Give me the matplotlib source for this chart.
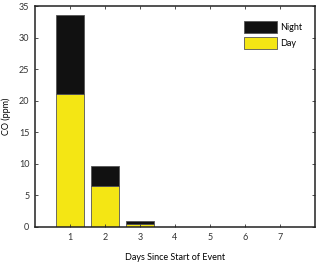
import matplotlib
matplotlib.use("Agg")
import matplotlib.pyplot as plt
from matplotlib.patches import Patch

days = [1, 2, 3, 4, 5, 6, 7]
day_vals = [21.0, 6.5, 0.5, 0, 0, 0, 0]
night_vals = [12.5, 3.2, 0.4, 0, 0, 0, 0]
xtick_labels = ["1", "2", "3", "4", "5", "6", "7"]

plt.rcParams['font.family'] = ['Lato', 'DejaVu Sans']
W, H = 320, 262
fig = plt.figure(figsize=(W/100, H/100), dpi=100)
ax = fig.add_axes([35/W, 1-227/H, (315-35)/W, (227-6)/H])

yellow = '#f4e614'
black = '#111111'
ec = '#555555'
ax.bar(days, day_vals, width=0.78, color=yellow, edgecolor=ec, linewidth=0.6)
ax.bar(days, night_vals, bottom=day_vals, width=0.78, color=black, edgecolor=ec, linewidth=0.6)

ax.set_xlim(0, 8)
ax.set_ylim(0, 35)
ax.set_xticks(days)
ax.set_xticklabels(xtick_labels)
ax.set_yticks([0, 5, 10, 15, 20, 25, 30, 35])
ax.tick_params(direction='in', length=2.5, width=0.6, labelsize=6.5,
               top=True, right=True, colors='#333333', pad=4)
for s in ax.spines.values():
    s.set_linewidth(1.1)
    s.set_color('#222222')

ax.set_xlabel("Days Since Start of Event", fontsize=6.5, labelpad=8)
ax.set_ylabel("CO (ppm)", fontsize=6.5, labelpad=6)

handles = [Patch(facecolor=black, edgecolor=ec, linewidth=0.6, label='Night'),
           Patch(facecolor=yellow, edgecolor=ec, linewidth=0.6, label='Day')]
leg = ax.legend(handles=handles, loc='upper left',
                bbox_to_anchor=(244/W, 1-21/H), bbox_transform=fig.transFigure,
                frameon=False, fontsize=6.5, handlelength=3.6, handleheight=1.6,
                handletextpad=0.35, labelspacing=0.5, borderpad=0, borderaxespad=0)

fig.savefig("out.png", dpi=100)
